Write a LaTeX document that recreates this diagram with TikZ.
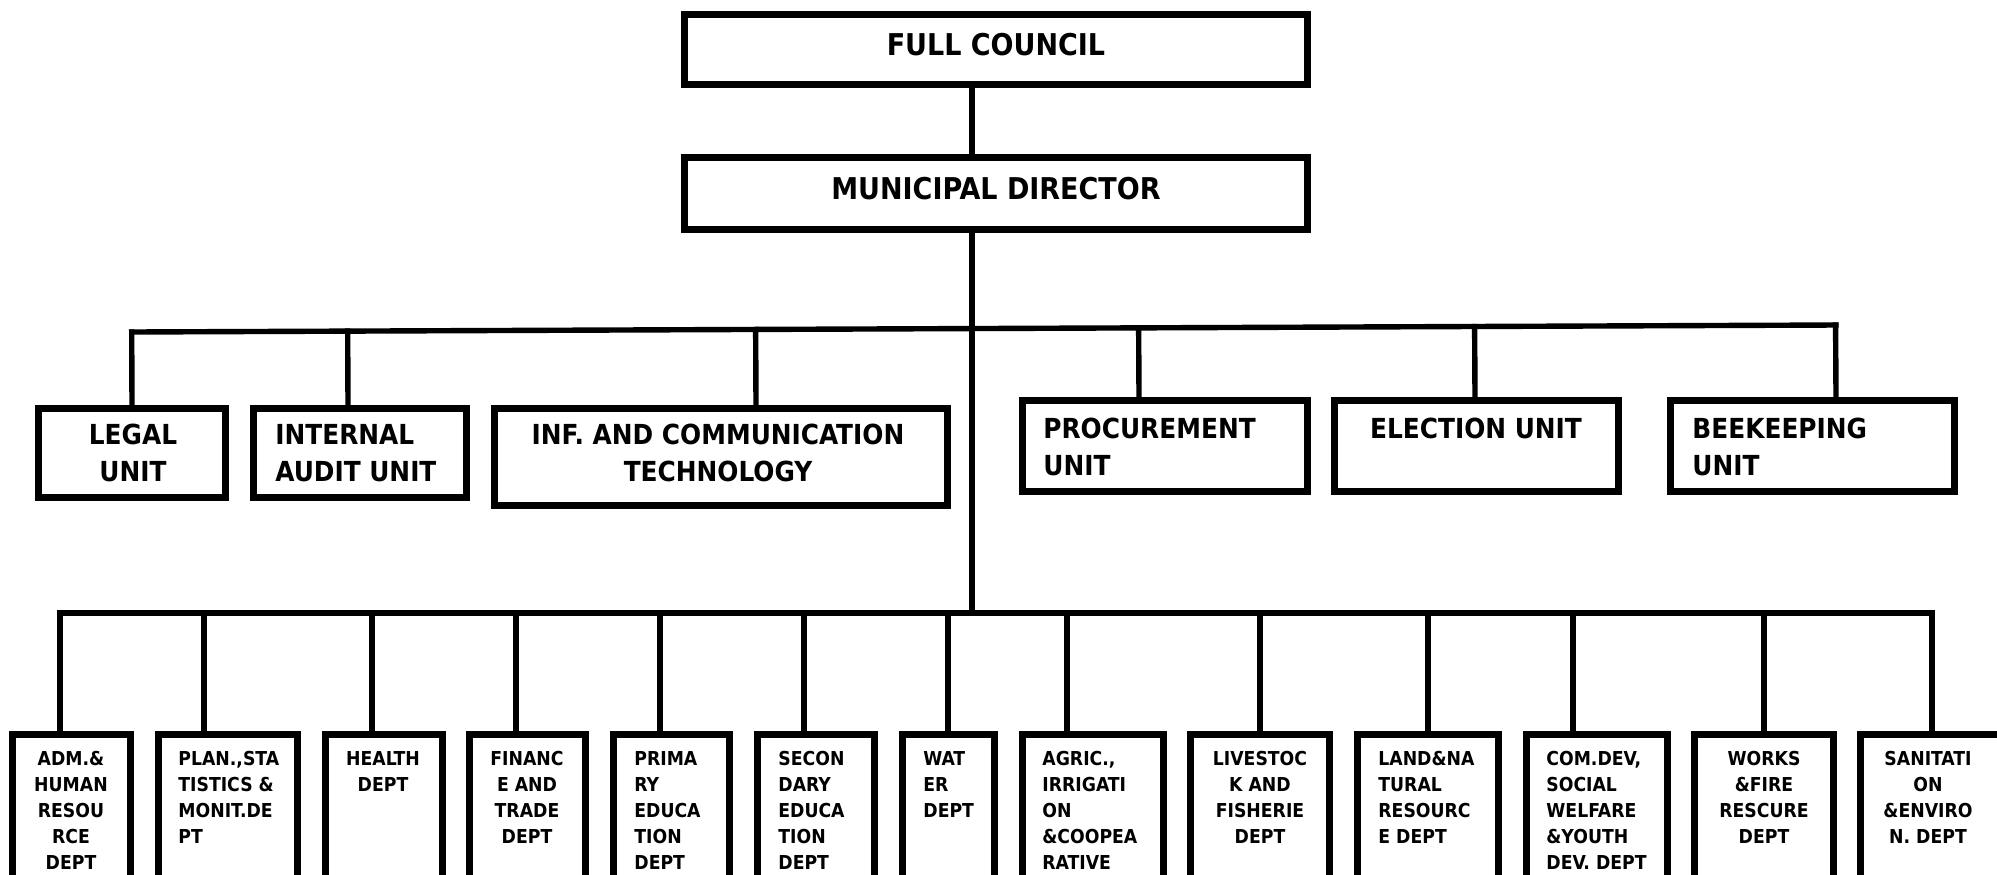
\documentclass[tikz,border=0pt]{standalone}
\usepackage{fontspec}
\setmainfont{DejaVu Sans Condensed}
\usetikzlibrary{calc}
\newcommand\orgbox[5]{\node[box, minimum width={(#4-#2)*0.5pt}, minimum height={(#5-#3)*0.5pt}] (#1) at ({(#2+#4)/2},{(#3+#5)/2}) {};}
\begin{document}
\begin{tikzpicture}[x=0.5pt,y=-0.5pt,
  box/.style={draw=black, line width=3.5pt, fill=white, inner sep=0pt, rectangle},
  conn/.style={draw=black, line width=2.7pt, line cap=rect},
  ttop/.style={font=\fontsize{15}{18}\selectfont\bfseries, inner sep=0pt, anchor=north, align=center},
  tmidc/.style={font=\fontsize{13.8}{18.5}\selectfont\bfseries, inner sep=0pt, anchor=north, align=center},
  tmidl/.style={font=\fontsize{13.8}{18.5}\selectfont\bfseries, inner sep=0pt, anchor=north west, align=left},
  tlowc/.style={font=\fontsize{9.6}{13}\selectfont\bfseries, inner sep=0pt, anchor=north, align=center},
  tlowl/.style={font=\fontsize{9.6}{13}\selectfont\bfseries, inner sep=0pt, anchor=north west, align=left},
]
\useasboundingbox (0,0) rectangle (1997,874);
\clip (0,0) rectangle (1997,874);
\fill[white] (0,0) rectangle (1997,874);

% ---------- boxes ----------
\orgbox{fc}{684}{14}{1307}{84}
\orgbox{md}{684}{157}{1307}{229}

\orgbox{legal}{38}{408}{225}{497}
\orgbox{ia}{253}{408}{466}{497}
\orgbox{ict}{494}{408}{947}{505}
\orgbox{proc}{1022}{400}{1307}{491}
\orgbox{elec}{1334}{400}{1618}{491}
\orgbox{bee}{1670}{400}{1954}{491}

\orgbox{adm}{12}{734}{130}{920}
\orgbox{plan}{158}{734}{297}{920}
\orgbox{health}{325}{734}{442}{920}
\orgbox{fin}{469}{734}{585}{920}
\orgbox{prim}{613}{734}{729}{920}
\orgbox{sec}{757}{734}{874}{920}
\orgbox{water}{902}{734}{994}{920}
\orgbox{agric}{1022}{734}{1163}{920}
\orgbox{live}{1190}{734}{1329}{920}
\orgbox{land}{1357}{734}{1498}{920}
\orgbox{comdev}{1526}{734}{1667}{920}
\orgbox{works}{1694}{734}{1833}{920}
\orgbox{sanit}{1860}{734}{2015}{920}

% ---------- texts ----------
\node[ttop] (fct) at (996,33) {FULL COUNCIL};
\node[ttop] (mdt) at (996,177) {MUNICIPAL DIRECTOR};

\node[tmidc] (legalt) at (133,424) {LEGAL\\UNIT};
\node[tmidl] (iat) at (275,424) {INTERNAL\\AUDIT UNIT};
\node[tmidc] (ictt) at (718,424) {INF. AND COMMUNICATION\\TECHNOLOGY};
\node[tmidl] (proct) at (1043,418) {PROCUREMENT\\UNIT};
\node[tmidc] (elect) at (1476,418) {ELECTION UNIT};
\node[tmidl] (beet) at (1692,418) {BEEKEEPING\\UNIT};

\node[tlowc] (admt) at (71,751) {ADM.\&\\HUMAN\\RESOU\\RCE\\DEPT};
\node[tlowl] (plant) at (178,751) {PLAN.,STA\\TISTICS \&\\MONIT.DE\\PT};
\node[tlowc] (healtht) at (383,751) {HEALTH\\DEPT};
\node[tlowc] (fint) at (527,751) {FINANC\\E AND\\TRADE\\DEPT};
\node[tlowl] (primt) at (634,751) {PRIMA\\RY\\EDUCA\\TION\\DEPT};
\node[tlowl] (sect) at (778,751) {SECON\\DARY\\EDUCA\\TION\\DEPT};
\node[tlowl] (watert) at (923,751) {WAT\\ER\\DEPT};
\node[tlowl] (agrict) at (1042,751) {AGRIC.,\\IRRIGATI\\ON\\\&COOPEA\\RATIVE};
\node[tlowc] (livet) at (1260,751) {LIVESTOC\\K AND\\FISHERIE\\DEPT};
\node[tlowl] (landt) at (1378,751) {LAND\&NA\\TURAL\\RESOURC\\E DEPT};
\node[tlowl] (comdevt) at (1546,751) {COM.DEV,\\SOCIAL\\WELFARE\\\&YOUTH\\DEV. DEPT};
\node[tlowc] (workst) at (1764,751) {WORKS\\\&FIRE\\RESCURE\\DEPT};
\node[tlowc] (sanitt) at (1928,751) {SANITATI\\ON\\\&ENVIRO\\N. DEPT};

% ---------- connectors ----------
\coordinate (trunk) at (972,0);
\coordinate (ubL) at (132,332);
\coordinate (ubR) at (1836,325);
\coordinate (lbL) at (60,613);
\coordinate (lbR) at (1932,613);

\draw[conn] (fc.south -| trunk) -- (md.north -| trunk);
\draw[conn] (md.south -| trunk) -- (trunk |- lbL);
\draw[conn] (ubL) -- (ubR);
\draw[conn] (lbL) -- (lbR);

\foreach \n/\x in {legal/132, ia/348, ict/756, proc/1139, elec/1475, bee/1836}{
  \coordinate (cx) at (\x,0);
  \draw[conn] (cx |- \n.north) -- ($(ubL)!(cx |- \n.north)!(ubR)$);
}
\foreach \n/\x in {adm/60, plan/204, health/372, fin/516, prim/660, sec/804, water/948, agric/1067, live/1260, land/1428, comdev/1573, works/1764, sanit/1932}{
  \coordinate (cx) at (\x,0);
  \draw[conn] (cx |- \n.north) -- (cx |- lbL);
}
\end{tikzpicture}
\end{document}
